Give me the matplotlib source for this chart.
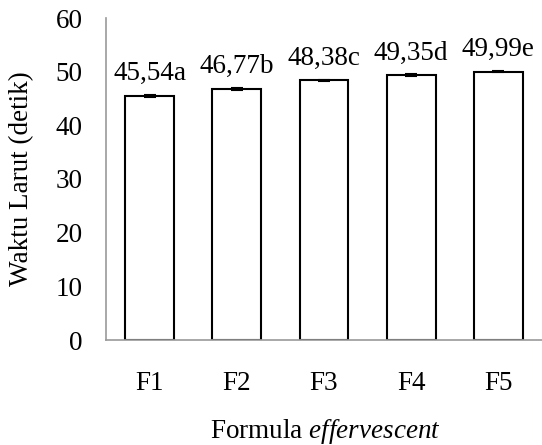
import matplotlib.pyplot as plt
import numpy as np

plt.rcParams['font.family'] = ['Liberation Serif', 'DejaVu Serif']
plt.rcParams['mathtext.fontset'] = 'custom'
plt.rcParams['mathtext.rm'] = 'Liberation Serif'
plt.rcParams['mathtext.it'] = 'Liberation Serif:italic'

formula = ['F1', 'F2', 'F3', 'F4', 'F5']
waktu = [45.54, 46.77, 48.38, 49.35, 49.99]
galat = [0.2, 0.15, 0.1, 0.25, 0.1]
notasi = ['45,54a', '46,77b', '48,38c', '49,35d', '49,99e']

fs = 19.5
fig = plt.figure(figsize=(5.42, 4.45), dpi=100)
ax = fig.add_axes([106/542, 1-340/445, (542-106)/542, (340-18)/445])

x = np.arange(len(formula))
ax.bar(x, waktu, width=0.56, color='white', edgecolor='black', linewidth=1.5, zorder=2)
ax.errorbar(x, waktu, yerr=galat, fmt='none', ecolor='black', elinewidth=1.5,
            capsize=4.3, capthick=1.5, zorder=3)
for xi, v, t in zip(x, waktu, notasi):
    ax.annotate(t, (xi, v), xytext=(0, 7), textcoords='offset points',
                ha='center', va='bottom', fontsize=fs)

ax.set_xlim(-0.5, 4.5)
ax.set_ylim(0, 60)
ax.set_yticks(range(0, 61, 10))
ax.set_xticks(x)
ax.set_xticklabels(formula)
ax.tick_params(length=0, labelsize=fs)
ax.tick_params(axis='y', pad=17)
ax.tick_params(axis='x', pad=22)
for s in ['top', 'right']:
    ax.spines[s].set_visible(False)
for s in ['left', 'bottom']:
    ax.spines[s].set_color('#999999')
    ax.spines[s].set_linewidth(1.2)

ax.set_ylabel('Waktu Larut (detik)', fontsize=fs, va='center')
ax.yaxis.set_label_coords((22-106)/436, 0.5)
fig.text(325/542, 1-432/445, r'Formula $\mathit{effervescent}$', ha='center', va='center', fontsize=fs)

fig.savefig('out.png', dpi=100)
